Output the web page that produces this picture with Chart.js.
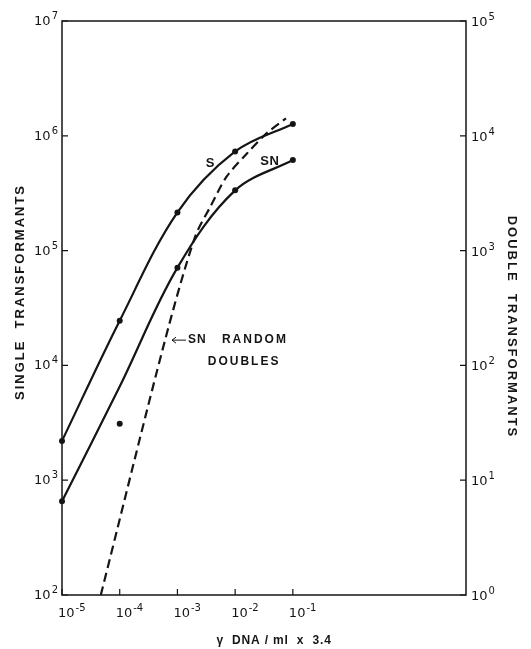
<!DOCTYPE html>
<html>
<head>
<meta charset="utf-8">
<script src="https://cdn.jsdelivr.net/npm/chart.js@4/dist/chart.umd.min.js"></script>
<style>
  html, body { margin: 0; padding: 0; background: #fff; }
  canvas { display: block; }
</style>
</head>
<body>
<canvas id="transformants" width="531" height="649"></canvas>
<script>
// concentrations (gamma DNA / ml x 3.4)
const dose = [1e-5, 1e-4, 1e-3, 1e-2, 1e-1];
// single transformants, measured points
const singleS = [2200, 24500, 215000, 730000, 1270000];
const singleSN = [655, 3100, 71000, 335000, 615000];
// hand drawn SN curve (misses the 1e-4 point)
const curveSN = [655, 6550, 71000, 335000, 615000];
// SN random doubles, dashed curve (right axis)
const doubleDose = [4.7e-5, 6.1e-4, 2.0e-3, 3.7e-3, 7.1e-3, 1.6e-2, 3.5e-2, 7.6e-2];
const doubleSN = [1, 166, 1300, 2400, 4400, 7000, 10500, 14200];

// tick labels
const xTickValues = [1e-5, 1e-4, 1e-3, 1e-2, 1e-1];
const leftTickValues = [1e2, 1e3, 1e4, 1e5, 1e6, 1e7];
const rightTickValues = [1e0, 1e1, 1e2, 1e3, 1e4, 1e5];

const xTitle = 'γ  DNA / ml  x  3.4';
const leftTitle = 'SINGLE  TRANSFORMANTS';
const rightTitle = 'DOUBLE  TRANSFORMANTS';

var ink = '#151515';

function pts(xs, ys){
    return xs.map(function(x, i){ return {x: x, y: ys[i]}; });
}

// draws "10" with a raised exponent
function drawPow(ctx, value, x, baseline, align){
    var exp = String(Math.round(Math.log10(value)));
    ctx.font = '13px "DejaVu Sans"';
    var w1 = ctx.measureText('10').width;
    ctx.font = '10px "DejaVu Sans"';
    var w2 = ctx.measureText(exp).width;
    var start = x;
    if(align === 'right') start = x - w1 - w2 - 1;
    ctx.textAlign = 'left';
    ctx.font = '13px "DejaVu Sans"';
    ctx.fillText('10', start, baseline);
    ctx.font = '10px "DejaVu Sans"';
    ctx.fillText(exp, start + w1 + 1, baseline - 6);
}

const frame = {
    id: 'frame',
    afterDraw: function(chart){
        var ctx = chart.ctx, a = chart.chartArea, s = chart.scales;
        ctx.save();
        ctx.strokeStyle = ink;
        ctx.fillStyle = ink;
        ctx.lineWidth = 1.5;
        ctx.strokeRect(a.left, a.top, a.right - a.left, a.bottom - a.top);

        ctx.lineWidth = 1.2;
        ctx.beginPath();
        leftTickValues.forEach(function(v){
            var y = s.y.getPixelForValue(v);
            ctx.moveTo(a.left, y); ctx.lineTo(a.left + 6, y);
        });
        rightTickValues.forEach(function(v){
            var y = s.y2.getPixelForValue(v);
            ctx.moveTo(a.right, y); ctx.lineTo(a.right - 6, y);
        });
        xTickValues.forEach(function(v){
            var x = s.x.getPixelForValue(v);
            ctx.moveTo(x, a.bottom); ctx.lineTo(x, a.bottom - 6);
        });
        ctx.stroke();

        ctx.textBaseline = 'alphabetic';
        leftTickValues.forEach(function(v){
            drawPow(ctx, v, a.left - 4, s.y.getPixelForValue(v) + 4, 'right');
        });
        rightTickValues.forEach(function(v){
            drawPow(ctx, v, a.right + 5, s.y2.getPixelForValue(v) + 5, 'left');
        });
        xTickValues.forEach(function(v){
            drawPow(ctx, v, s.x.getPixelForValue(v) - 4, a.bottom + 22, 'left');
        });

        // axis titles
        ctx.textAlign = 'center';
        ctx.textBaseline = 'middle';
        ctx.font = 'bold 12px "Liberation Sans"';
        ctx.letterSpacing = '0.8px';
        ctx.fillText(xTitle, (a.left + a.right) / 2 + 10, a.bottom + 46);

        ctx.font = 'bold 13px "Liberation Sans"';
        ctx.letterSpacing = '2px';
        ctx.save();
        ctx.translate(20, 292);
        ctx.rotate(-Math.PI / 2);
        ctx.fillText(leftTitle, 0, 0);
        ctx.restore();

        ctx.save();
        ctx.translate(512, 327);
        ctx.rotate(Math.PI / 2);
        ctx.fillText(rightTitle, 0, 0);
        ctx.restore();

        // curve labels
        ctx.font = 'bold 13px "Liberation Sans"';
        ctx.letterSpacing = '0.5px';
        ctx.fillText('S', s.x.getPixelForValue(3.7e-3), s.y.getPixelForValue(5.8e5));
        ctx.fillText('SN', s.x.getPixelForValue(0.040), s.y.getPixelForValue(6.0e5));

        var ax = s.x.getPixelForValue(8.05e-4), ay = s.y.getPixelForValue(1.66e4);
        ctx.lineWidth = 1;
        ctx.beginPath();
        ctx.moveTo(ax, ay); ctx.lineTo(ax + 14, ay);
        ctx.moveTo(ax + 4, ay - 3); ctx.lineTo(ax, ay); ctx.lineTo(ax + 4, ay + 3);
        ctx.stroke();
        ctx.font = 'bold 12px "Liberation Sans"';
        ctx.letterSpacing = '1px';
        ctx.textAlign = 'left';
        ctx.fillText('SN', ax + 16, ay);
        ctx.letterSpacing = '2px';
        ctx.fillText('RANDOM', s.x.getPixelForValue(5.9e-3), ay);
        ctx.textAlign = 'center';
        ctx.fillText('DOUBLES', s.x.getPixelForValue(0.0143), s.y.getPixelForValue(1.07e4));
        ctx.restore();
    }
};

function logAxis(position, min, max, size){
    return {
        type: 'logarithmic',
        position: position,
        min: min,
        max: max,
        ticks: {display: false},
        grid: {display: false},
        border: {display: false},
        afterFit: function(scale){
            if(position === 'bottom') scale.height = size; else scale.width = size;
        }
    };
}

new Chart(document.getElementById('transformants'), {
    type: 'scatter',
    data: {
        datasets: [
            {
                label: 'S',
                data: pts(dose, singleS),
                showLine: true,
                tension: 0.35,
                borderColor: ink,
                borderWidth: 2.2,
                pointRadius: 3,
                pointBackgroundColor: ink,
                pointBorderWidth: 0,
                clip: false,
                yAxisID: 'y'
            },
            {
                label: 'SN curve',
                data: pts(dose, curveSN),
                showLine: true,
                tension: 0.35,
                borderColor: ink,
                borderWidth: 2.2,
                pointRadius: 0,
                clip: false,
                yAxisID: 'y'
            },
            {
                label: 'SN',
                data: pts(dose, singleSN),
                showLine: false,
                pointRadius: 3,
                pointBackgroundColor: ink,
                pointBorderWidth: 0,
                clip: false,
                yAxisID: 'y'
            },
            {
                label: 'SN random doubles',
                data: pts(doubleDose, doubleSN),
                showLine: true,
                tension: 0.3,
                borderColor: ink,
                borderWidth: 2.2,
                borderDash: [9, 5],
                pointRadius: 0,
                clip: false,
                yAxisID: 'y2'
            }
        ]
    },
    options: {
        responsive: false,
        animation: false,
        devicePixelRatio: 1,
        layout: {padding: {top: 21, left: 0, right: 0, bottom: 0}},
        plugins: {
            legend: {display: false},
            tooltip: {enabled: false}
        },
        scales: {
            x: logAxis('bottom', 1e-5, 1e2, 54),
            y: logAxis('left', 1e2, 1e7, 62),
            y2: logAxis('right', 1e0, 1e5, 65)
        }
    },
    plugins: [frame]
});
</script>
</body>
</html>
